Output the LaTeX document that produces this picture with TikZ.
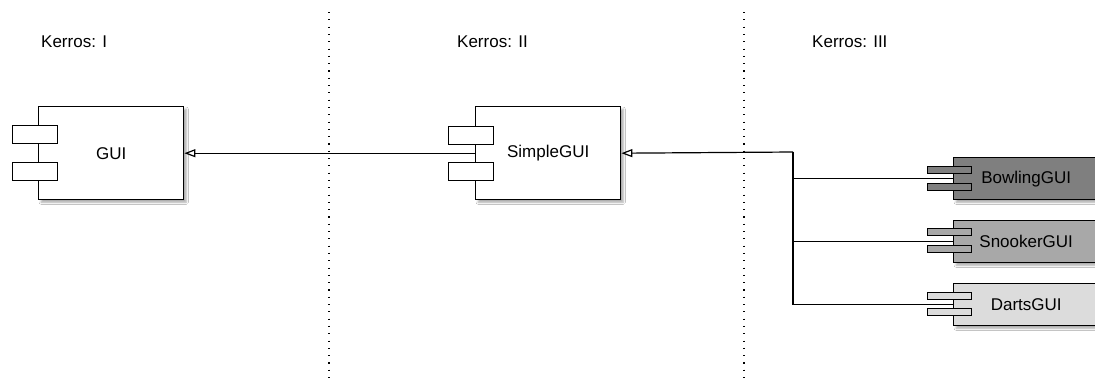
\documentclass[tikz,border=0pt]{standalone}
\usepackage{fontspec}
\setmainfont{Liberation Sans}
\usetikzlibrary{arrows.meta,shadows.blur}
\definecolor{bowlfill}{HTML}{7F7F7F}
\definecolor{snookfill}{HTML}{A8A8A8}
\definecolor{dartsfill}{HTML}{DCDCDC}
\tikzset{
  comp/.style={draw=black, line width=1.4pt, anchor=north west, minimum width=145pt, inner sep=0pt,
    font=\fontsize{17}{20}\selectfont, blur shadow={shadow xshift=2.5pt, shadow yshift=-2.5pt, shadow blur steps=4, shadow opacity=35}},
  bigcomp/.style={comp, minimum height=93pt},
  smallcomp/.style={comp, minimum height=42pt},
  bigport/.style={draw=black, line width=1.4pt, anchor=north west, minimum width=45pt, minimum height=18pt, inner sep=0pt},
  smallport/.style={draw=black, line width=1.3pt, anchor=north west, minimum width=44pt, minimum height=7pt, inner sep=0pt},
  conn/.style={draw=black, line width=1.2pt},
  gen/.style={conn, -{Triangle[open, length=11pt, width=8pt, fill=white]}},
  lane/.style={draw=black, line width=1.1pt, dash pattern=on 1.1pt off 6.2pt},
  laneTitle/.style={anchor=base west, font=\fontsize{17}{20}\selectfont, inner sep=0pt}
}
\begin{document}
\begin{tikzpicture}[x=1pt,y=-1pt]
\useasboundingbox (0,0) rectangle (1095,381);
\clip (0,0) rectangle (1095,381);
\fill[white] (0,0) rectangle (1095,381);

% swimlane separators
\coordinate (s1t) at (329,12);
\coordinate (s1b) at (329,381);
\coordinate (s2t) at (744,12);
\coordinate (s2b) at (744,381);
\draw[lane] (s1t) -- (s1b);
\draw[lane] (s2t) -- (s2b);

% lane titles
\node[laneTitle] (k1) at (41,47) {Kerros: I};
\node[laneTitle] (k2) at (457,47) {Kerros: II};
\node[laneTitle] (k3) at (812,47) {Kerros: III};

% components
\node[bigcomp, fill=white] (gui) at (38,106) {GUI};
\node[bigcomp, fill=white] (simple) at (475,106) {SimpleGUI};
\node[smallcomp, fill=bowlfill] (bowl) at (953,157) {BowlingGUI};
\node[smallcomp, fill=snookfill] (snook) at (953,220) {SnookerGUI};
\node[smallcomp, fill=dartsfill] (darts) at (953,283) {DartsGUI};

% connectors
\coordinate (j) at (793,152);
\draw[gen] (simple.west) -- (gui.east);
\draw[gen] (j) -- (simple.east);
\draw[conn] (j) |- (darts.west);
\draw[conn] (bowl.west) -- (bowl.west -| j);
\draw[conn] (snook.west) -- (snook.west -| j);

% ports
\node[bigport, fill=white] (guip1) at (12,125) {};
\node[bigport, fill=white] (guip2) at (12,162) {};
\node[bigport, fill=white] (simplep1) at (448,126) {};
\node[bigport, fill=white] (simplep2) at (448,162) {};
\node[smallport, fill=bowlfill] (bowlp1) at (927,166) {};
\node[smallport, fill=bowlfill] (bowlp2) at (927,183) {};
\node[smallport, fill=snookfill] (snookp1) at (927,228) {};
\node[smallport, fill=snookfill] (snookp2) at (927,245) {};
\node[smallport, fill=dartsfill] (dartsp1) at (927,292) {};
\node[smallport, fill=dartsfill] (dartsp2) at (927,308) {};
\end{tikzpicture}
\end{document}
